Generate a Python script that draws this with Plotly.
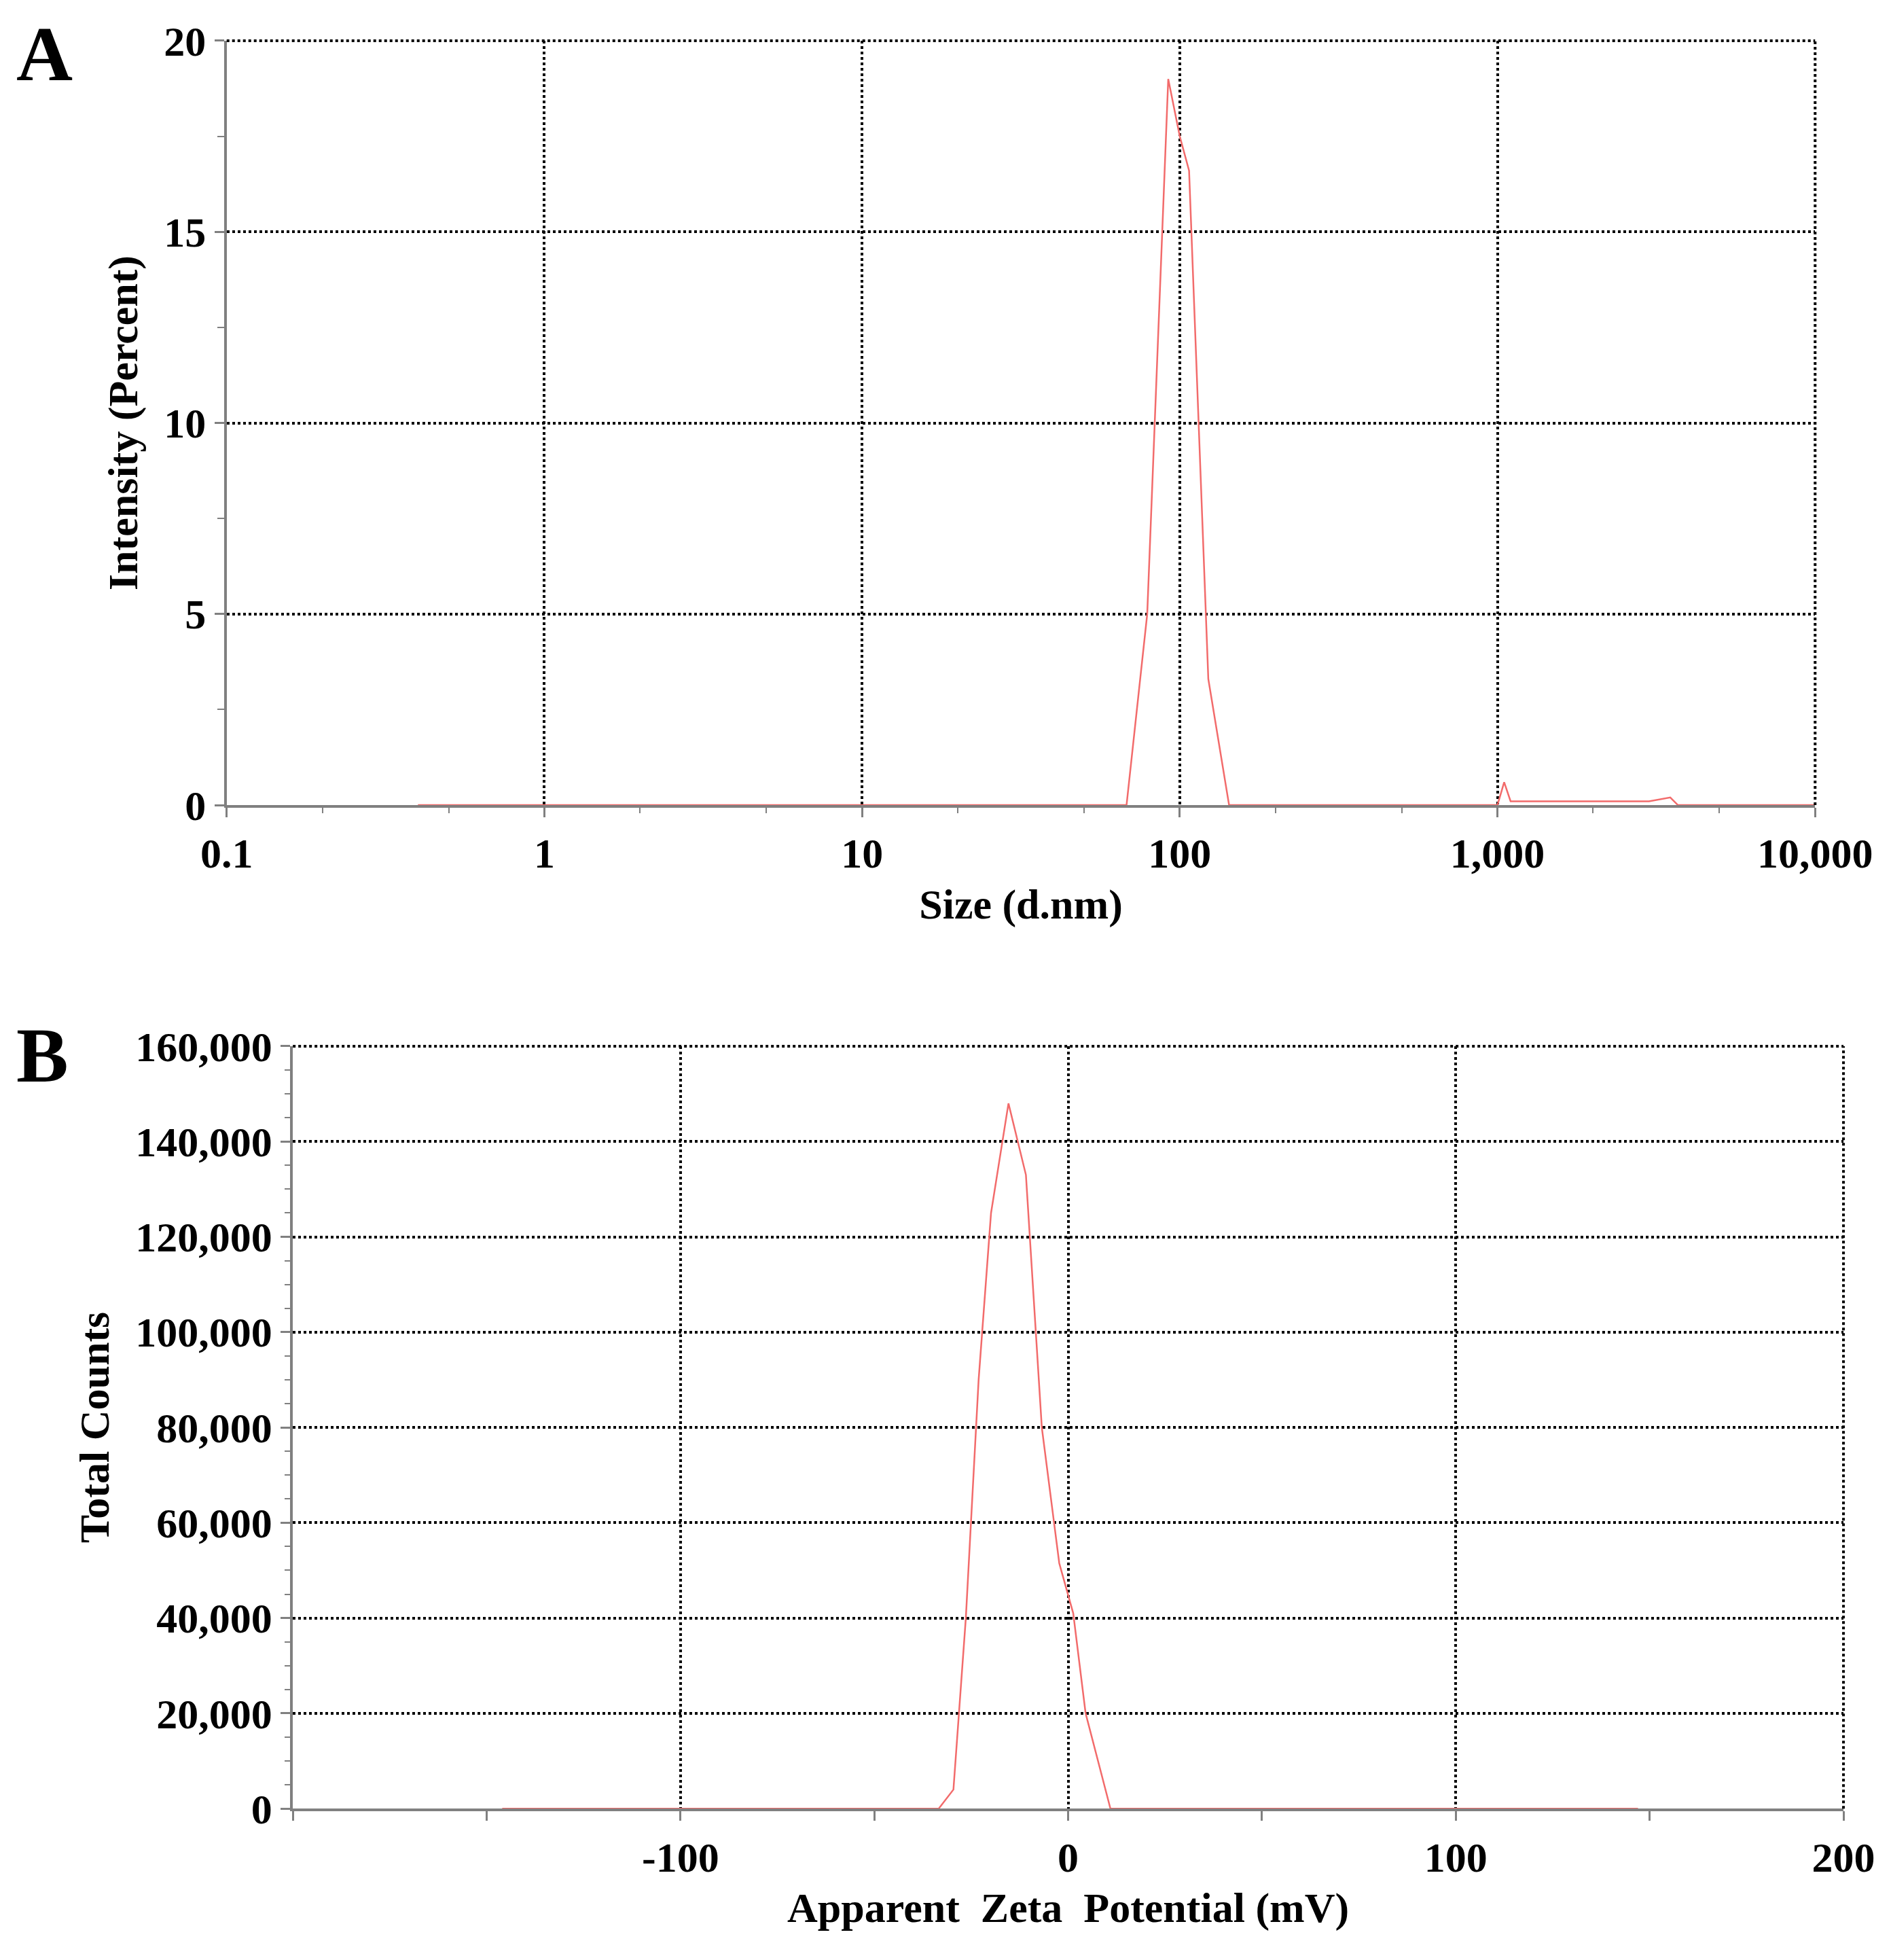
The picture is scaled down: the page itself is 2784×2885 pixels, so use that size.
import plotly.graph_objects as go

size_nm = [0.4, 1, 10, 68, 79, 92, 100, 107, 123, 143, 500, 1000, 1050, 1100, 3000, 3500, 3700, 10000]
intensity = [0, 0, 0, 0, 5, 19, 17.5, 16.6, 3.3, 0, 0, 0, 0.6, 0.1, 0.1, 0.2, 0, 0]

zeta_mv = [-146, -60, -33.4, -29.6, -26.4, -23.1, -19.9, -15.4, -10.9, -6.8, -2.3, 1.3, 4.5, 10.9, 60, 147]
counts = [0, 0, 0, 4000, 40000, 90000, 125000, 148000, 133000, 80000, 51500, 41000, 20000, 0, 0, 0]

FONT = "Liberation Serif"
LINE = "#f26b6b"
fig = go.Figure()
fig.add_trace(go.Scatter(x=size_nm, y=intensity, mode="lines", line=dict(color=LINE, width=2.5),
                         xaxis="x", yaxis="y", showlegend=False))
fig.add_trace(go.Scatter(x=zeta_mv, y=counts, mode="lines", line=dict(color=LINE, width=2.5),
                         xaxis="x2", yaxis="y2", showlegend=False))

tickfont = dict(family=FONT, size=62, color="black")
titlefont = dict(family=FONT, size=62, color="black")
common = dict(showline=True, linecolor="#808080", linewidth=4, mirror=False, automargin=False,
              showgrid=True, gridcolor="black", griddash="dot", gridwidth=4,
              ticks="outside", tickcolor="#808080", tickwidth=3, ticklen=14,
              tickfont=tickfont, zeroline=False)

dot = dict(color="black", width=4, dash="dot")
shapes = [
    dict(type="line", xref="x domain", yref="y domain", x0=0, x1=1, y0=1, y1=1, line=dot),
    dict(type="line", xref="x domain", yref="y domain", x0=1, x1=1, y0=0, y1=1, line=dot),
    dict(type="line", xref="x2 domain", yref="y2 domain", x0=0, x1=1, y0=1, y1=1, line=dot),
    dict(type="line", xref="x2 domain", yref="y2 domain", x0=1, x1=1, y0=0, y1=1, line=dot),
]

fig.update_layout(
    width=2784, height=2885, paper_bgcolor="white", plot_bgcolor="white",
    margin=dict(l=0, r=0, t=0, b=0),
    font=dict(family=FONT, color="black"),
    shapes=shapes,
    xaxis=dict(common, domain=[0.117, 0.957], anchor="y", type="log", range=[-1, 4],
               tickvals=[0.1, 1, 10, 100, 1000, 10000],
               ticktext=["<b>0.1</b>", "<b>1</b>", "<b>10</b>", "<b>100</b>", "<b>1,000</b>", "<b>10,000</b>"],
               minor=dict(ticks="outside", ticklen=8, tickcolor="#808080", tickwidth=2, showgrid=False),
               title=dict(text="<b>Size (d.nm)</b>", font=titlefont, standoff=20)),
    yaxis=dict(common, domain=[0.592, 0.982], anchor="x", range=[0, 20],
               tickvals=[0, 5, 10, 15, 20], ticktext=["<b>%d</b>" % v for v in [0, 5, 10, 15, 20]],
               minor=dict(dtick=2.5, ticks="outside", ticklen=10, tickcolor="#808080", tickwidth=2, showgrid=False),
               title=dict(text="<b>Intensity (Percent)</b>", font=titlefont, standoff=20)),
    xaxis2=dict(common, domain=[0.152, 0.972], anchor="y2", range=[-200, 200],
                tickvals=[-100, 0, 100, 200], ticktext=["<b>-100</b>", "<b>0</b>", "<b>100</b>", "<b>200</b>"],
                minor=dict(dtick=50, ticks="outside", ticklen=14, tickcolor="#808080", tickwidth=3, showgrid=False),
                title=dict(text="<b>Apparent  Zeta  Potential (mV)</b>", font=titlefont, standoff=20)),
    yaxis2=dict(common, domain=[0.080, 0.469], anchor="x2", range=[0, 160000],
                tickvals=list(range(0, 160001, 20000)),
                ticktext=["<b>{:,}</b>".format(v) for v in range(0, 160001, 20000)],
                minor=dict(dtick=5000, ticks="outside", ticklen=8, tickcolor="#808080", tickwidth=2, showgrid=False),
                title=dict(text="<b>Total Counts</b>", font=titlefont, standoff=20)),
    annotations=[
        dict(text="<b>A</b>", x=0.005, y=0.998, xref="paper", yref="paper", showarrow=False,
             xanchor="left", yanchor="top", font=dict(family=FONT, size=115, color="black")),
        dict(text="<b>B</b>", x=0.005, y=0.487, xref="paper", yref="paper", showarrow=False,
             xanchor="left", yanchor="top", font=dict(family=FONT, size=115, color="black")),
    ],
)
fig.write_html("out.html")
